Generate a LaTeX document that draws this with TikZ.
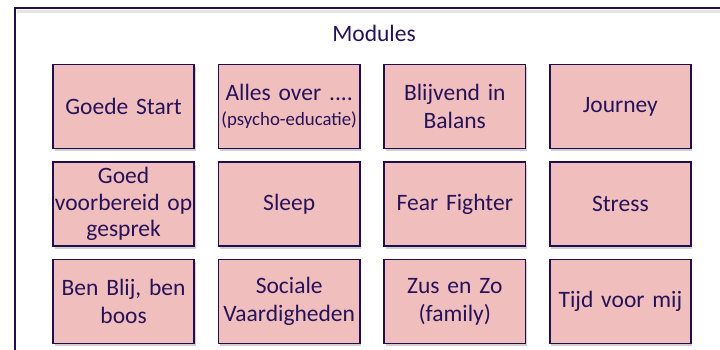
\documentclass[tikz,border=0pt]{standalone}
\usepackage{fontspec}
\setmainfont{Carlito}
\usetikzlibrary{matrix}
\usetikzlibrary{shadows}
\definecolor{modfill}{RGB}{241,190,190}
\definecolor{modline}{RGB}{33,13,82}
\definecolor{modtext}{RGB}{38,18,88}
\newcommand{\subtext}[1]{{\fontsize{18.8}{22}\selectfont #1}}

\begin{document}
\begin{tikzpicture}[x=1pt,y=-1pt,
  module/.style={draw=modline, line width=1.6pt, fill=modfill, text=modtext,
    minimum width=141pt, minimum height=84pt, text width=141pt,
    inner xsep=0pt, inner ysep=0pt, align=center,
    font=\fontsize{23.5}{28.5}\selectfont,
    drop shadow={shadow xshift=1.5pt, shadow yshift=-2.5pt, opacity=.3, fill=black!60}}]
  \useasboundingbox (0,0) rectangle (720,349);
  \clip (0,0) rectangle (720,349);
  \draw[modline, line width=1.6pt, fill=white] (15,8) rectangle (740,370);
  \draw[black!10, line width=3pt] (16.5,11) -- (720,11);
  \node[text=modtext, font=\fontsize{23.5}{28}\selectfont] (title) at (374,33) {Modules};
  \matrix (m) [matrix of nodes, nodes={module, anchor=center},
    row sep=12pt, column sep=23pt] at (372,204)
  {
    Goede Start & {Alles over ....\\[-4pt]\subtext{(psycho-educatie)}} & {Blijvend in\\Balans} & Journey \\
    |[font=\fontsize{23.5}{26.5}\selectfont]| {Goed\\voorbereid op\\gesprek} & Sleep & Fear Fighter & Stress \\
    {Ben Blij, ben\\boos} & {Sociale\\Vaardigheden} & {Zus en Zo\\(family)} & Tijd voor mij \\
  };
\end{tikzpicture}
\end{document}
